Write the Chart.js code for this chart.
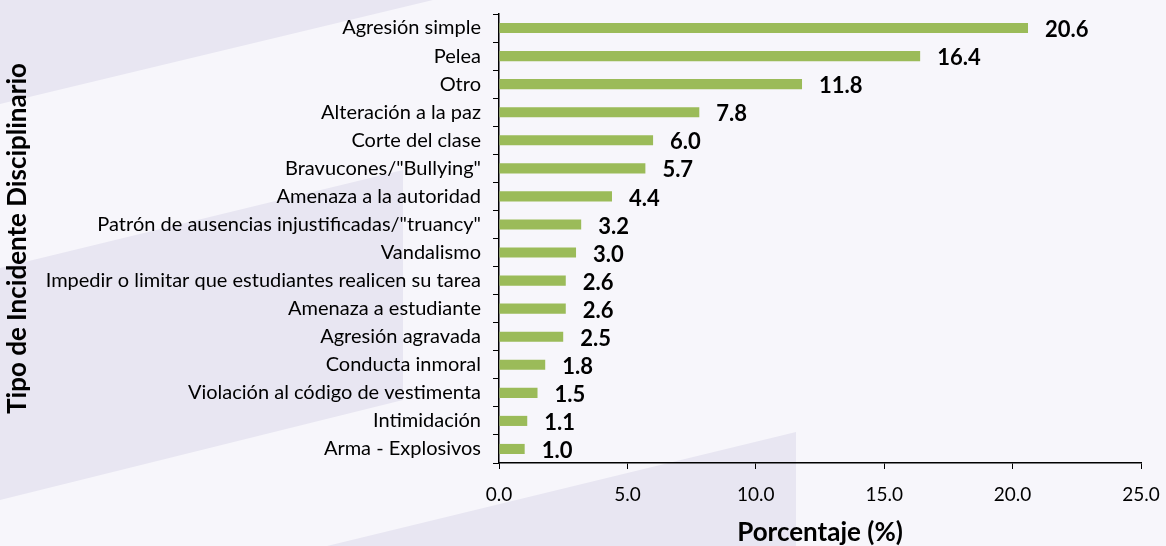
<!DOCTYPE html>
<html>
<head>
<meta charset="utf-8">
<script src="https://cdn.jsdelivr.net/npm/chart.js@4.4.0/dist/chart.umd.min.js"></script>
<style>
  html, body { margin: 0; padding: 0; background: #f7f6fb; }
  #wrap { width: 1166px; height: 546px; }
</style>
</head>
<body>
<div id="wrap"><canvas id="chart"></canvas></div>
<script>
const categorias = [
  'Agresión simple',
  'Pelea',
  'Otro',
  'Alteración a la paz',
  'Corte del clase',
  'Bravucones/"Bullying"',
  'Amenaza a la autoridad',
  'Patrón de ausencias injustificadas/"truancy"',
  'Vandalismo',
  'Impedir o limitar que estudiantes realicen su tarea',
  'Amenaza a estudiante',
  'Agresión agravada',
  'Conducta inmoral',
  'Violación al código de vestimenta',
  'Intimidación',
  'Arma - Explosivos',
];
const porcentajes = [20.6, 16.4, 11.8, 7.8, 6.0, 5.7, 4.4, 3.2, 3.0, 2.6, 2.6, 2.5, 1.8, 1.5, 1.1, 1.0];
const xMin = 0, xMax = 25, xStep = 5;

const FONT = 'Lato, "Open Sans", sans-serif';
const green = '#9bbb59';
const ink   = '#000000';

// fondo con las franjas diagonales
const fondo = {
  id: 'fondo',
  beforeDraw(chart) {
    const ctx = chart.ctx;
    ctx.save();
    ctx.fillStyle = '#f7f6fb';
    ctx.fillRect(0, 0, chart.width, chart.height);
    ctx.fillStyle = '#e8e6f2';
    const polys = [
      [[0, 0], [433, 0], [0, 104]],
      [[0, 268], [403, 170], [403, 400], [0, 500]],
      [[796, 432], [796, 546], [327, 546]],
    ];
    polys.forEach(p => {
      ctx.beginPath();
      p.forEach(([x, y], i) => i ? ctx.lineTo(x, y) : ctx.moveTo(x, y));
      ctx.closePath();
      ctx.fill();
    });
    ctx.restore();
  }
};

// etiquetas de valor al final de cada barra
const etiquetas = {
  id: 'etiquetas',
  afterDatasetsDraw(chart) {
    const ctx = chart.ctx;
    const meta = chart.getDatasetMeta(0);
    ctx.save();
    ctx.font = 'bold 22px ' + FONT;
    ctx.fillStyle = ink;
    ctx.textAlign = 'left';
    ctx.textBaseline = 'middle';
    meta.data.forEach((bar, i) => {
      ctx.fillText(porcentajes[i].toFixed(1), bar.x + 17, bar.y + 2);
    });
    ctx.restore();
  }
};

new Chart(document.getElementById('chart'), {
  type: 'bar',
  data: {
    labels: categorias,
    datasets: [{
      data: porcentajes,
      backgroundColor: green,
      borderWidth: 0,
      barPercentage: 0.36,
      categoryPercentage: 1,
    }],
  },
  plugins: [fondo, etiquetas],
  options: {
    indexAxis: 'y',
    responsive: true, maintainAspectRatio: false,
    animation: false,
    layout: { padding: { top: 14, right: 25, left: 0, bottom: 0 } },
    plugins: { legend: { display: false }, tooltip: { enabled: false } },
    scales: {
      x: {
        min: xMin, max: xMax,
        ticks: {
          stepSize: xStep, color: ink, padding: 14,
          font: { family: FONT, size: 19 },
          callback: v => Number(v).toFixed(1),
        },
        grid: { drawOnChartArea: false, color: ink, tickLength: 6 },
        border: { color: ink, width: 1.5 },
        title: {
          display: true, text: 'Porcentaje (%)', color: ink,
          font: { family: FONT, size: 26, weight: 'bold', lineHeight: 1 },
          padding: { top: 0, bottom: 0 },
        },
        afterFit: s => { s.height = 83; s.paddingLeft = 0; s.paddingRight = 0; },
      },
      y: {
        ticks: {
          color: ink, padding: 12, autoSkip: false,
          font: { family: FONT, size: 20 },
        },
        grid: { drawOnChartArea: false, color: ink, tickLength: 6, offset: true },
        border: { color: ink, width: 1.5 },
        title: {
          display: true, text: 'Tipo de Incidente Disciplinario', color: ink,
          font: { family: FONT, size: 26, weight: 'bold', lineHeight: 1 },
          padding: { top: 5, bottom: 0 },
        },
        afterFit: s => { s.width = 499; s.paddingTop = 0; s.paddingBottom = 0; },
      },
    },
  },
});
</script>
</body>
</html>
